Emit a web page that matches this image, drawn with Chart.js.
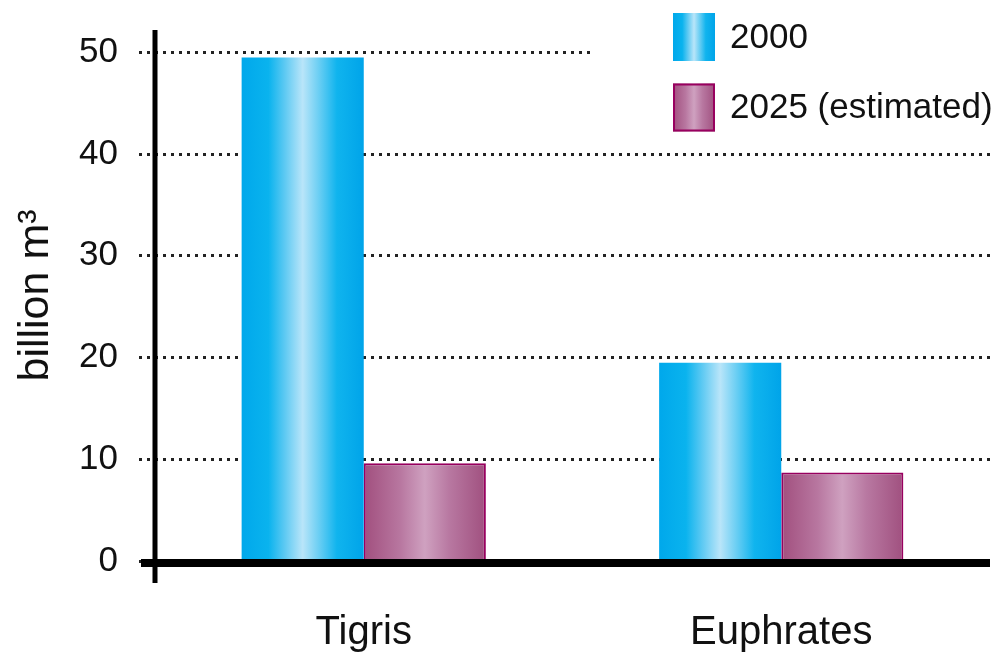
<!DOCTYPE html>
<html lang="en">
<head>
    <meta charset="UTF-8">
    <title>Tigris and Euphrates</title>
    <script src="https://cdn.jsdelivr.net/npm/chart.js"></script>
    <style>
        body { margin: 0; background: #fff; }
        .wrap { width: 1000px; height: 658px; position: relative; }
    </style>
</head>
<body>
    <div class="wrap">
        <canvas id="riverChart"></canvas>
    </div>
    <script>
// values (billion m3)
const categories = ['Tigris', 'Euphrates'];
const seriesLabels = ['2000', '2025 (estimated)'];
const values2000 = [49.5, 19.5];
const values2025 = [9.6, 8.7];
const yTitle = 'billion m\u00b3';

const plain = "'Liberation Sans', Arial, sans-serif";
const catPct = 0.585;

const blueStops = [[0, '#00a8eb'], [0.22, '#0ab3ee'], [0.34, '#55c7f2'], [0.5, '#b9e5f9'], [0.64, '#66cdf3'], [0.78, '#10b4ee'], [1, '#00a4e9']];
const plumStops = [[0, '#a14f7e'], [0.3, '#b877a0'], [0.5, '#cfa1c0'], [0.7, '#b878a1'], [1, '#a0507f']];

function makeGradient(g, x0, x1, stops) {
    const grad = g.createLinearGradient(x0, 0, x1, 0);
    stops.forEach(s => grad.addColorStop(s[0], s[1]));
    return grad;
}

// gradient across each bar, positioned from the category scale
function barFill(stops) {
    return function(c) {
        const chart = c.chart;
        const x = chart.scales.x;
        if (!x || !chart.chartArea || c.dataIndex === undefined) return stops[3][1];
        const cat = x.width / categories.length;
        const bw = cat * catPct / 2;
        const left = x.getPixelForValue(c.dataIndex) - cat * catPct / 2 + c.datasetIndex * bw;
        return makeGradient(chart.ctx, left, left + bw, stops);
    };
}

const axesPlugin = {
    id: 'axes',
    afterDatasetsDraw(chart) {
        const g = chart.ctx, a = chart.chartArea;
        const y0 = chart.scales.y.getPixelForValue(0);
        g.save();
        g.strokeStyle = '#000';
        g.lineWidth = 5;
        g.beginPath();
        g.moveTo(a.left, a.top);
        g.lineTo(a.left, y0 + 22);
        g.stroke();
        g.lineWidth = 8;
        g.beginPath();
        g.moveTo(a.left - 14, y0 + 2);
        g.lineTo(a.right, y0 + 2);
        g.stroke();
        g.restore();
    }
};

const legendPlugin = {
    id: 'boxLegend',
    afterDraw(chart) {
        const g = chart.ctx;
        g.save();
        g.fillStyle = '#fff';
        g.fillRect(590, 0, 410, 140);
        const all = [blueStops, plumStops];
        seriesLabels.forEach((label, i) => {
            const bx = 673, by = 13 + i * 70.5, bw = 42, bh = 48;
            g.fillStyle = makeGradient(g, bx, bx + bw, all[i]);
            g.fillRect(bx, by, bw, bh);
            if (i === 1) {
                g.strokeStyle = '#98005f';
                g.lineWidth = 2;
                g.strokeRect(bx + 1, by + 1, bw - 2, bh - 2);
            }
            g.fillStyle = '#111';
            g.font = '35px ' + plain;
            g.textBaseline = 'middle';
            g.fillText(label, 730, by + bh / 2 + 1);
        });
        g.restore();
    }
};

const ctx = document.getElementById('riverChart').getContext('2d');
new Chart(ctx, {
    type: 'bar',
    data: {
        labels: categories,
        datasets: [{
            label: seriesLabels[0],
            data: values2000,
            backgroundColor: barFill(blueStops),
            borderWidth: 0
        }, {
            label: seriesLabels[1],
            data: values2025,
            backgroundColor: barFill(plumStops),
            borderColor: '#98005f',
            borderWidth: 2
        }]
    },
    options: {
        responsive: true,
        maintainAspectRatio: false,
        animation: false,
        layout: { padding: { top: 30, right: 10, left: 0, bottom: 0 } },
        datasets: { bar: { categoryPercentage: catPct, barPercentage: 1 } },
        plugins: {
            legend: { display: false },
            tooltip: { enabled: false }
        },
        scales: {
            x: {
                grid: { display: false, drawTicks: false },
                border: { display: false },
                ticks: { color: '#111', font: { size: 40, family: plain }, padding: 48 },
                afterFit(s) { s.height = 97; }
            },
            y: {
                min: 0,
                max: 52.2,
                ticks: { stepSize: 10, includeBounds: false, color: '#111', font: { size: 35, family: plain }, padding: 21 },
                grid: {
                    color: '#222', lineWidth: 3, tickLength: 16, tickColor: '#222', tickWidth: 3,
                    borderDash: [3, 5], tickBorderDash: [3, 5]
                },
                border: { display: false, dash: [3, 5] },
                title: { display: true, text: yTitle, color: '#111', font: { size: 43, family: plain }, padding: { top: 10, bottom: 0 } },
                afterFit(s) { s.width = 155; s.paddingTop = 0; s.paddingBottom = 0; }
            }
        }
    },
    plugins: [axesPlugin, legendPlugin]
});
    </script>
</body>
</html>
